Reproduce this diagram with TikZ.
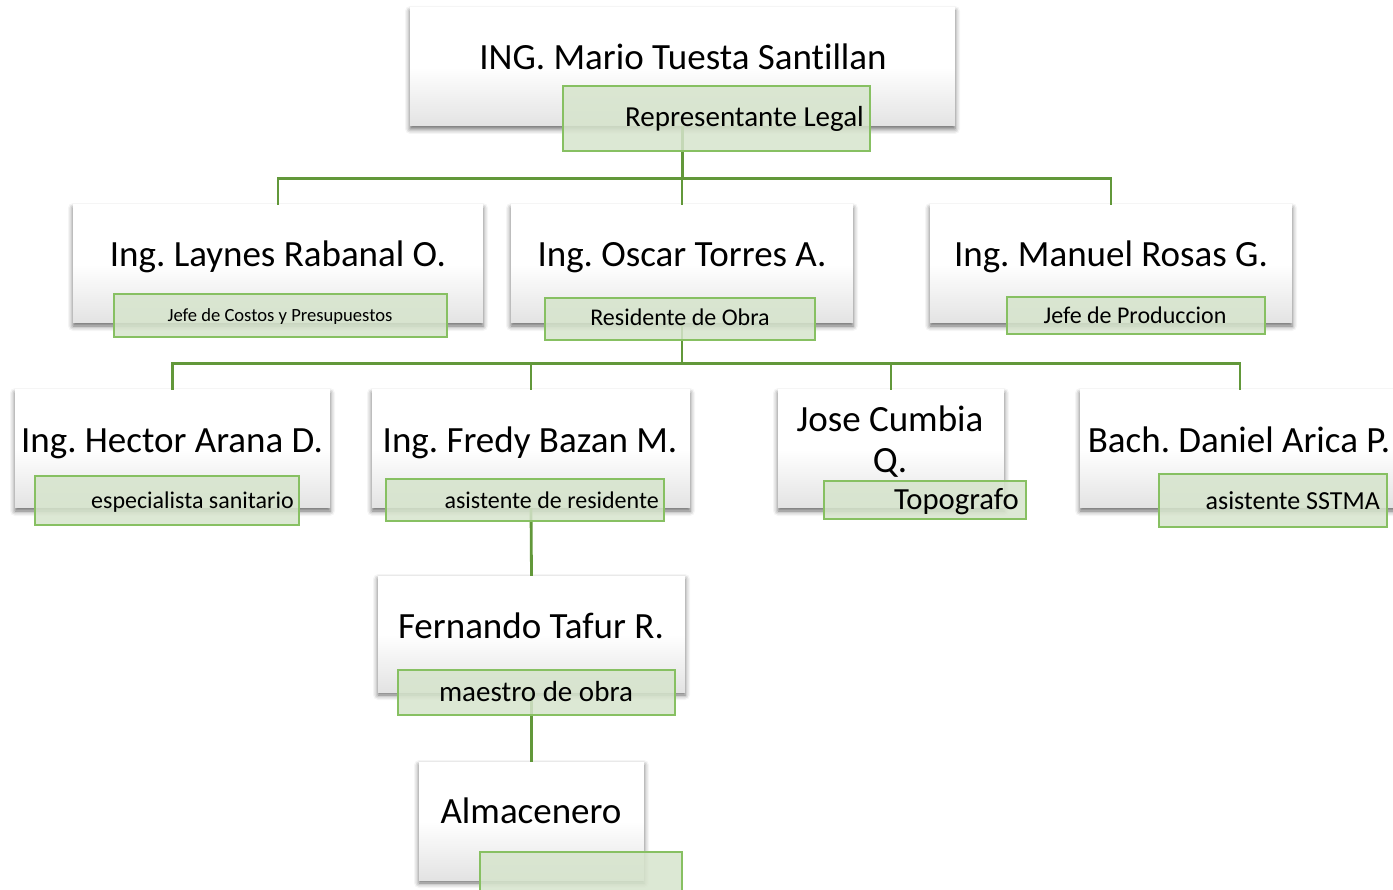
\documentclass[tikz,border=0pt]{standalone}
\usepackage{fontspec}
\setmainfont{Carlito}[Ligatures=NoCommon]
\usetikzlibrary{shadows.blur}
\frenchspacing
\definecolor{linkgreen}{RGB}{98,152,58}
\definecolor{rolefill}{RGB}{214,228,204}
\definecolor{roledraw}{RGB}{135,192,98}
\tikzset{
    person box/.style={
        inner sep=0pt,
        top color=white,bottom color=black!11,middle color=white,
        blur shadow={shadow xshift=0pt,shadow yshift=-3pt,shadow blur radius=5pt,shadow opacity=60}
    },
    role box/.style={
        draw=roledraw,line width=1.2pt,
        fill=rolefill,fill opacity=0.85,
        inner sep=0pt
    },
    name text/.style={font=\fontsize{37}{40}\selectfont,anchor=base,inner sep=0pt},
    role text/.style={anchor=base,inner sep=0pt},
    link/.style={linkgreen,line width=2.8pt}
}

\begin{document}
\begin{tikzpicture}[x=1pt,y=-1pt]
\clip (0,0) rectangle (1393,890);
\useasboundingbox (0,0) rectangle (1393,890);
% people
\node[person box,minimum width=545,minimum height=118] (mario) at (682.5,67) {};
\node[person box,minimum width=410,minimum height=118] (laynes) at (278,264) {};
\node[person box,minimum width=342,minimum height=118] (oscar) at (682,264) {};
\node[person box,minimum width=362,minimum height=118] (manuel) at (1111,264) {};
\node[person box,minimum width=315,minimum height=118] (hector) at (172.5,449) {};
\node[person box,minimum width=318,minimum height=118] (fredy) at (531,449) {};
\node[person box,minimum width=226,minimum height=118] (jose) at (891,449) {};
\node[person box,minimum width=320,minimum height=118] (daniel) at (1240,449) {};
\node[person box,minimum width=307,minimum height=116] (fernando) at (531.5,634) {};
\node[person box,minimum width=225,minimum height=118] (almacenero) at (531.5,821) {};
% links
\draw[link] (mario.south) -- ++(0,52) coordinate (fork top);
\foreach \n in {laynes,oscar,manuel}
    \draw[link] (fork top) -| (\n.north);
\draw[link] (oscar.south) -- ++(0,40) coordinate (fork mid);
\foreach \n in {hector,fredy,jose,daniel}
    \draw[link] (fork mid) -| (\n.north);
\draw[link] (fredy.south) -- (fernando.north);
\draw[link] (fernando.south) -- (almacenero.north);
% roles
\node[role box,minimum width=307,minimum height=65] (mario role) at (716.5,118.5) {};
\node[role box,minimum width=333,minimum height=43] (laynes role) at (280.5,315.5) {};
\node[role box,minimum width=270,minimum height=42] (oscar role) at (680,319) {};
\node[role box,minimum width=258,minimum height=37] (manuel role) at (1136,315.5) {};
\node[role box,minimum width=264,minimum height=49] (hector role) at (167,500.5) {};
\node[role box,minimum width=278,minimum height=42] (fredy role) at (525,500) {};
\node[role box,minimum width=202,minimum height=38] (jose role) at (925,500) {};
\node[role box,minimum width=228,minimum height=53] (daniel role) at (1273,500.5) {};
\node[role box,minimum width=277,minimum height=45] (fernando role) at (536.5,692.5) {};
\node[role box,minimum width=202,minimum height=48] (almacenero role) at (581,876) {};
% texts
\node[name text] (mario text) at (683,70) {ING. Mario Tuesta Santillan};
\node[name text] (laynes text) at (278,267) {Ing. Laynes Rabanal O.};
\node[name text] (oscar text) at (682,267) {Ing. Oscar Torres A.};
\node[name text] (manuel text) at (1111,267) {Ing. Manuel Rosas G.};
\node[name text] (hector text) at (172,453) {Ing. Hector Arana D.};
\node[name text] (fredy text) at (530,453) {Ing. Fredy Bazan M.};
\node[name text] (jose text) at (890,432) {Jose Cumbia};
\node[name text] (jose text b) at (890,473) {Q.};
\node[name text] (daniel text) at (1239,453) {Bach. Daniel Arica P.};
\node[name text] (fernando text) at (531,638) {Fernando Tafur R.};
\node[name text] (almacenero text) at (531,823) {Almacenero};
\node[role text,anchor=base east,font=\fontsize{29}{32}\selectfont] (mario role text) at (864,127) {Representante Legal};
\node[role text,font=\fontsize{18.6}{21}\selectfont] (laynes role text) at (280,322) {Jefe de Costos y Presupuestos};
\node[role text,font=\fontsize{24}{27}\selectfont] (oscar role text) at (680,326) {Residente de Obra};
\node[role text,font=\fontsize{24}{27}\selectfont] (manuel role text) at (1135,324) {Jefe de Produccion};
\node[role text,anchor=base east,font=\fontsize{24}{27}\selectfont] (hector role text) at (294,508) {especialista sanitario};
\node[role text,anchor=base east,font=\fontsize{24}{27}\selectfont] (fredy role text) at (659,508) {asistente de residente};
\node[role text,anchor=base east,font=\fontsize{30.7}{34}\selectfont] (jose role text) at (1019,509) {Topografo};
\node[role text,anchor=base east,font=\fontsize{26}{29}\selectfont] (daniel role text) at (1380,509) {asistente SSTMA};
\node[role text,font=\fontsize{29}{32}\selectfont] (fernando role text) at (536,701) {maestro de obra};
\end{tikzpicture}
\end{document}
